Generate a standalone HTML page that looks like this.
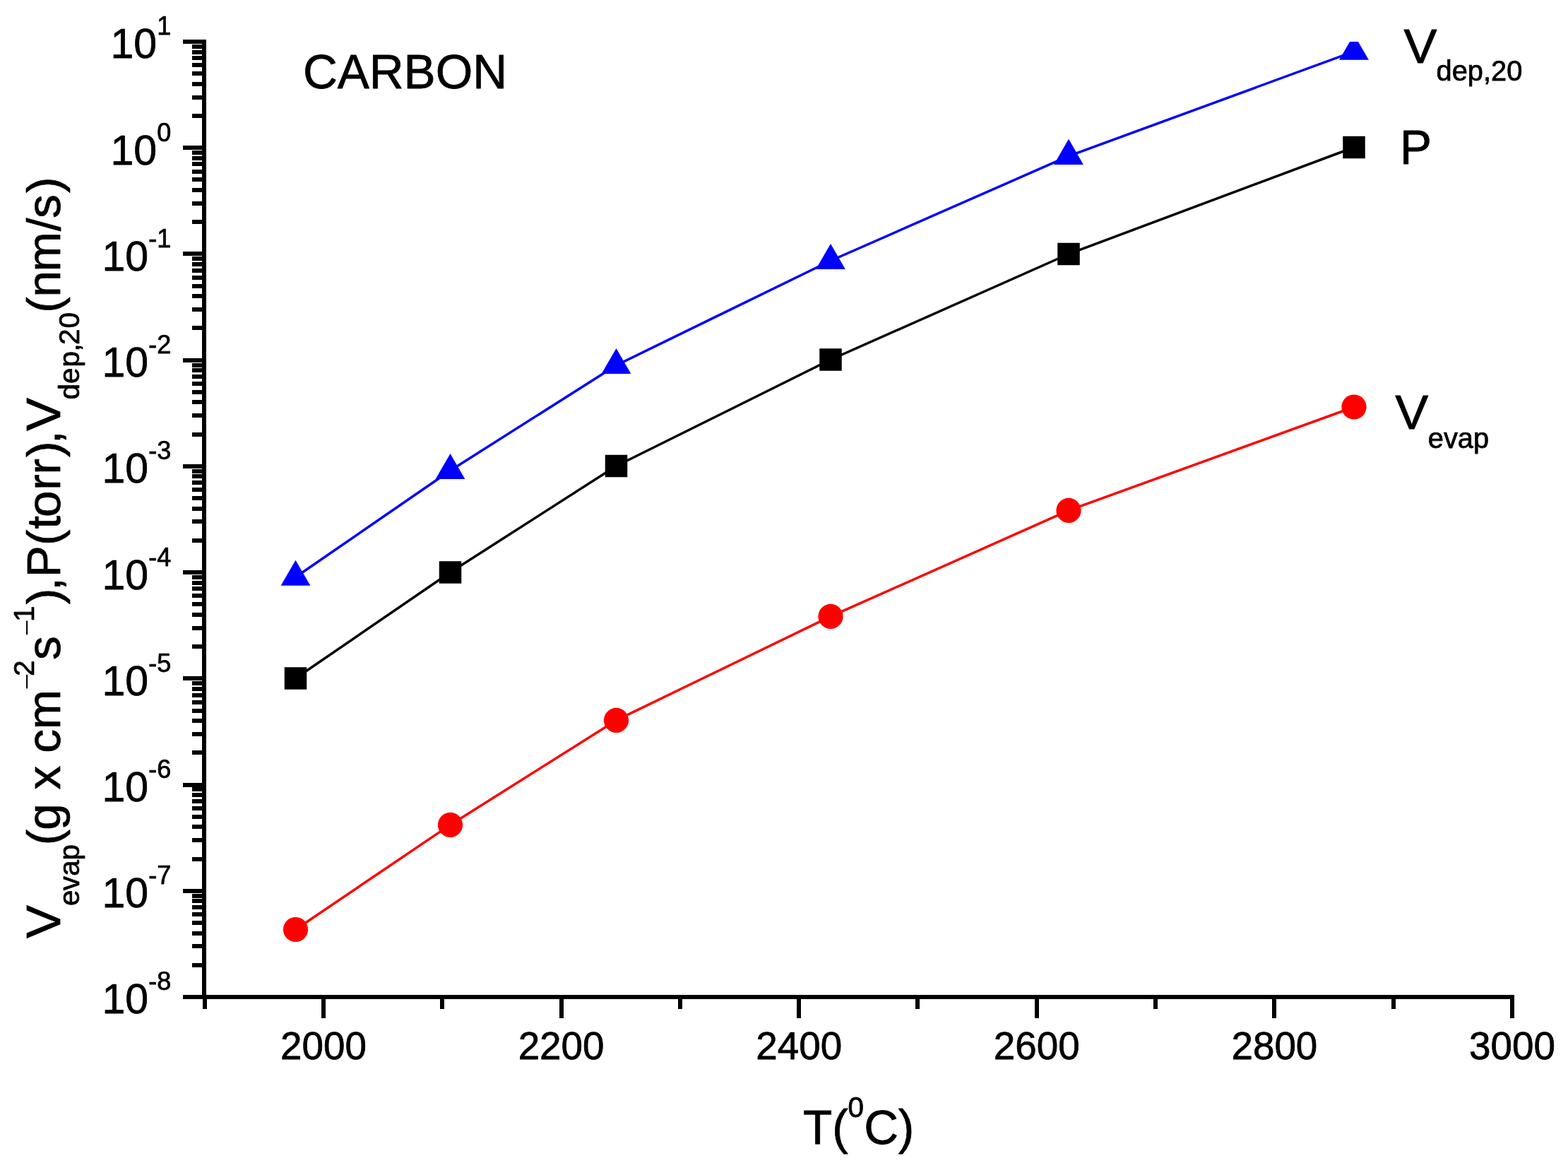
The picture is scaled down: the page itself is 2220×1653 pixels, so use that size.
<!DOCTYPE html><html><head><meta charset="utf-8"><style>html,body{margin:0;padding:0;background:#fff;}svg{display:block;}text{font-family:"Liberation Sans",Arial,sans-serif;fill:#000;stroke:#000;stroke-width:0.75px;stroke-linejoin:round;}</style></head><body>
<svg width="2220" height="1653" viewBox="0 0 2220 1653">
<rect x="0" y="0" width="2220" height="1653" fill="#fff"/>
<defs><clipPath id="pa"><rect x="0" y="59" width="2220" height="1594"/></clipPath></defs>
<g clip-path="url(#pa)">
<polyline points="418.5,1315.5 637.5,1167.4 872.5,1019.4 1176,872.4 1513,722.4 1917,576" fill="none" stroke="#ff0000" stroke-width="3.5" stroke-linejoin="round"/>
<polyline points="418.5,960 637.5,810 872.5,659.5 1176,509 1513,359.5 1917,208.5" fill="none" stroke="#000000" stroke-width="3.5" stroke-linejoin="round"/>
<polyline points="418.5,816.8 637.5,666 872.5,517 1176,369 1513,220.9 1917,72.8" fill="none" stroke="#0000ff" stroke-width="3.5" stroke-linejoin="round"/>
<rect x="402.75" y="944.25" width="31.5" height="31.5" fill="#000"/>
<rect x="621.75" y="794.25" width="31.5" height="31.5" fill="#000"/>
<rect x="856.75" y="643.75" width="31.5" height="31.5" fill="#000"/>
<rect x="1160.25" y="493.25" width="31.5" height="31.5" fill="#000"/>
<rect x="1497.25" y="343.75" width="31.5" height="31.5" fill="#000"/>
<rect x="1901.25" y="192.75" width="31.5" height="31.5" fill="#000"/>
<polygon points="418.5,792.6999999999999 439.37,828.8499999999999 397.63,828.8499999999999" fill="#0000ff"/>
<polygon points="637.5,641.9 658.37,678.05 616.63,678.05" fill="#0000ff"/>
<polygon points="872.5,492.9 893.37,529.05 851.63,529.05" fill="#0000ff"/>
<polygon points="1176,344.9 1196.87,381.05 1155.13,381.05" fill="#0000ff"/>
<polygon points="1513,196.8 1533.87,232.95000000000002 1492.13,232.95000000000002" fill="#0000ff"/>
<polygon points="1917,48.699999999999996 1937.87,84.85 1896.13,84.85" fill="#0000ff"/>
<circle cx="418.5" cy="1315.5" r="17.6" fill="#ff0000"/>
<circle cx="637.5" cy="1167.4" r="17.6" fill="#ff0000"/>
<circle cx="872.5" cy="1019.4" r="17.6" fill="#ff0000"/>
<circle cx="1176" cy="872.4" r="17.6" fill="#ff0000"/>
<circle cx="1513" cy="722.4" r="17.6" fill="#ff0000"/>
<circle cx="1917" cy="576" r="17.6" fill="#ff0000"/>
</g>
<g fill="#000" shape-rendering="crispEdges">
<rect x="286" y="56" width="6" height="1358"/>
<rect x="286" y="1408" width="1858" height="6"/>
<rect x="259" y="56" width="30" height="6"/>
<rect x="259" y="206" width="30" height="6"/>
<rect x="259" y="356" width="30" height="6"/>
<rect x="259" y="507" width="30" height="6"/>
<rect x="259" y="657" width="30" height="6"/>
<rect x="259" y="807" width="30" height="6"/>
<rect x="259" y="957" width="30" height="6"/>
<rect x="259" y="1108" width="30" height="6"/>
<rect x="259" y="1258" width="30" height="6"/>
<rect x="259" y="1408" width="30" height="6"/>
<rect x="272" y="1363" width="17" height="6"/>
<rect x="272" y="1336" width="17" height="6"/>
<rect x="272" y="1318" width="17" height="6"/>
<rect x="272" y="1303" width="17" height="6"/>
<rect x="272" y="1291" width="17" height="6"/>
<rect x="272" y="1281" width="17" height="6"/>
<rect x="272" y="1272" width="17" height="6"/>
<rect x="272" y="1265" width="17" height="6"/>
<rect x="272" y="1213" width="17" height="6"/>
<rect x="272" y="1186" width="17" height="6"/>
<rect x="272" y="1167" width="17" height="6"/>
<rect x="272" y="1153" width="17" height="6"/>
<rect x="272" y="1141" width="17" height="6"/>
<rect x="272" y="1131" width="17" height="6"/>
<rect x="272" y="1122" width="17" height="6"/>
<rect x="272" y="1114" width="17" height="6"/>
<rect x="272" y="1062" width="17" height="6"/>
<rect x="272" y="1036" width="17" height="6"/>
<rect x="272" y="1017" width="17" height="6"/>
<rect x="272" y="1003" width="17" height="6"/>
<rect x="272" y="991" width="17" height="6"/>
<rect x="272" y="981" width="17" height="6"/>
<rect x="272" y="972" width="17" height="6"/>
<rect x="272" y="964" width="17" height="6"/>
<rect x="272" y="912" width="17" height="6"/>
<rect x="272" y="886" width="17" height="6"/>
<rect x="272" y="867" width="17" height="6"/>
<rect x="272" y="852" width="17" height="6"/>
<rect x="272" y="840" width="17" height="6"/>
<rect x="272" y="830" width="17" height="6"/>
<rect x="272" y="822" width="17" height="6"/>
<rect x="272" y="814" width="17" height="6"/>
<rect x="272" y="762" width="17" height="6"/>
<rect x="272" y="735" width="17" height="6"/>
<rect x="272" y="717" width="17" height="6"/>
<rect x="272" y="702" width="17" height="6"/>
<rect x="272" y="690" width="17" height="6"/>
<rect x="272" y="680" width="17" height="6"/>
<rect x="272" y="671" width="17" height="6"/>
<rect x="272" y="664" width="17" height="6"/>
<rect x="272" y="612" width="17" height="6"/>
<rect x="272" y="585" width="17" height="6"/>
<rect x="272" y="566" width="17" height="6"/>
<rect x="272" y="552" width="17" height="6"/>
<rect x="272" y="540" width="17" height="6"/>
<rect x="272" y="530" width="17" height="6"/>
<rect x="272" y="521" width="17" height="6"/>
<rect x="272" y="514" width="17" height="6"/>
<rect x="272" y="461" width="17" height="6"/>
<rect x="272" y="435" width="17" height="6"/>
<rect x="272" y="416" width="17" height="6"/>
<rect x="272" y="402" width="17" height="6"/>
<rect x="272" y="390" width="17" height="6"/>
<rect x="272" y="380" width="17" height="6"/>
<rect x="272" y="371" width="17" height="6"/>
<rect x="272" y="363" width="17" height="6"/>
<rect x="272" y="311" width="17" height="6"/>
<rect x="272" y="285" width="17" height="6"/>
<rect x="272" y="266" width="17" height="6"/>
<rect x="272" y="251" width="17" height="6"/>
<rect x="272" y="240" width="17" height="6"/>
<rect x="272" y="229" width="17" height="6"/>
<rect x="272" y="221" width="17" height="6"/>
<rect x="272" y="213" width="17" height="6"/>
<rect x="272" y="161" width="17" height="6"/>
<rect x="272" y="135" width="17" height="6"/>
<rect x="272" y="116" width="17" height="6"/>
<rect x="272" y="101" width="17" height="6"/>
<rect x="272" y="89" width="17" height="6"/>
<rect x="272" y="79" width="17" height="6"/>
<rect x="272" y="71" width="17" height="6"/>
<rect x="272" y="63" width="17" height="6"/>
<rect x="287" y="1408" width="6" height="20"/>
<rect x="455" y="1408" width="6" height="33"/>
<rect x="623" y="1408" width="6" height="20"/>
<rect x="792" y="1408" width="6" height="33"/>
<rect x="960" y="1408" width="6" height="20"/>
<rect x="1128" y="1408" width="6" height="33"/>
<rect x="1296" y="1408" width="6" height="20"/>
<rect x="1465" y="1408" width="6" height="33"/>
<rect x="1633" y="1408" width="6" height="20"/>
<rect x="1801" y="1408" width="6" height="33"/>
<rect x="1970" y="1408" width="6" height="20"/>
<rect x="2138" y="1408" width="6" height="33"/>
</g>
<text x="242.2" y="82.4" text-anchor="end" font-size="59">10<tspan font-size="36" dy="-33">1</tspan></text>
<text x="242.2" y="232.6" text-anchor="end" font-size="59">10<tspan font-size="36" dy="-33">0</tspan></text>
<text x="242.2" y="382.8" text-anchor="end" font-size="59">10<tspan font-size="36" dy="-33">-1</tspan></text>
<text x="242.2" y="533.1" text-anchor="end" font-size="59">10<tspan font-size="36" dy="-33">-2</tspan></text>
<text x="242.2" y="683.3" text-anchor="end" font-size="59">10<tspan font-size="36" dy="-33">-3</tspan></text>
<text x="242.2" y="833.5" text-anchor="end" font-size="59">10<tspan font-size="36" dy="-33">-4</tspan></text>
<text x="242.2" y="983.7" text-anchor="end" font-size="59">10<tspan font-size="36" dy="-33">-5</tspan></text>
<text x="242.2" y="1134.0" text-anchor="end" font-size="59">10<tspan font-size="36" dy="-33">-6</tspan></text>
<text x="242.2" y="1284.2" text-anchor="end" font-size="59">10<tspan font-size="36" dy="-33">-7</tspan></text>
<text x="242.2" y="1434.4" text-anchor="end" font-size="59">10<tspan font-size="36" dy="-33">-8</tspan></text>
<text x="458.0" y="1498.5" text-anchor="middle" font-size="54.8">2000</text>
<text x="794.6" y="1498.5" text-anchor="middle" font-size="54.8">2200</text>
<text x="1131.2" y="1498.5" text-anchor="middle" font-size="54.8">2400</text>
<text x="1467.8" y="1498.5" text-anchor="middle" font-size="54.8">2600</text>
<text x="1804.4" y="1498.5" text-anchor="middle" font-size="54.8">2800</text>
<text x="2141.0" y="1498.5" text-anchor="middle" font-size="54.8">3000</text>
<text x="428.9" y="124.6" font-size="67.6" transform="matrix(1,0,0,1.016,0,-1.994)">CARBON</text>
<text x="1136.9" y="1619.3" font-size="67.5" transform="matrix(1,0,0,1.016,0,-25.909)">T(<tspan font-size="40.5" dy="-37.4">0</tspan><tspan dy="37.4">C)</tspan></text>
<text x="1987.6" y="88.6" font-size="67.5" transform="matrix(1.045,0,0,1.02,-89.442,-1.772)">V</text><text x="2033.6" y="114.4" font-size="39.8">dep,20</text>
<text x="1981.9" y="232.5" font-size="67.5" transform="matrix(1,0,0,1.016,0,-3.720)">P</text>
<text x="1975.2" y="607.4" font-size="67.5" transform="matrix(1.045,0,0,1.02,-88.884,-12.148)">V</text><text x="2021.8" y="633.5" font-size="39.8">evap</text>
<g transform="translate(84.7,1328.1) rotate(-90)">
<text x="0.0" y="0" font-size="67.5" xml:space="preserve" transform="matrix(1.045,0,0,1.02,-0.000,-0.000)">V</text>
<text x="46.1 67.8 88.3 110.6" y="27.2" font-size="40.5" xml:space="preserve">evap</text>
<text x="131.9 153.4 190.9 210.5 244.3 262.4 295.9" y="0" font-size="67.5" xml:space="preserve">(g x cm</text>
<text x="351.3" y="-33.2" font-size="40.5" xml:space="preserve" transform="matrix(1,0,0,0.72,0,-13.067)" style="stroke:none">−</text>
<text x="371.0" y="-36.8" font-size="40.5" xml:space="preserve">2</text>
<text x="394.1" y="0" font-size="67.5" xml:space="preserve">s</text>
<text x="427.5" y="-33.2" font-size="40.5" xml:space="preserve" transform="matrix(1,0,0,0.72,0,-13.067)" style="stroke:none">−</text>
<text x="448.1" y="-36.8" font-size="40.5" xml:space="preserve">1</text>
<text x="472.8 492.2 510.9 556.1 579.3 596.1 634.4 656.7 681.1 699.9" y="0" font-size="67.5" xml:space="preserve">),P(torr),</text>
<text x="718.1" y="0" font-size="67.5" xml:space="preserve" transform="matrix(1.045,0,0,1.02,-32.315,-0.000)">V</text>
<text x="762.6 785.2 808.6 830.6 840.2 863.6" y="27.2" font-size="40.5" xml:space="preserve">dep,20</text>
<text x="885.3 907.6 943.5 1000.9 1019.2 1055.0" y="0" font-size="67.5" xml:space="preserve">(nm/s)</text>
</g>
</svg></body></html>
